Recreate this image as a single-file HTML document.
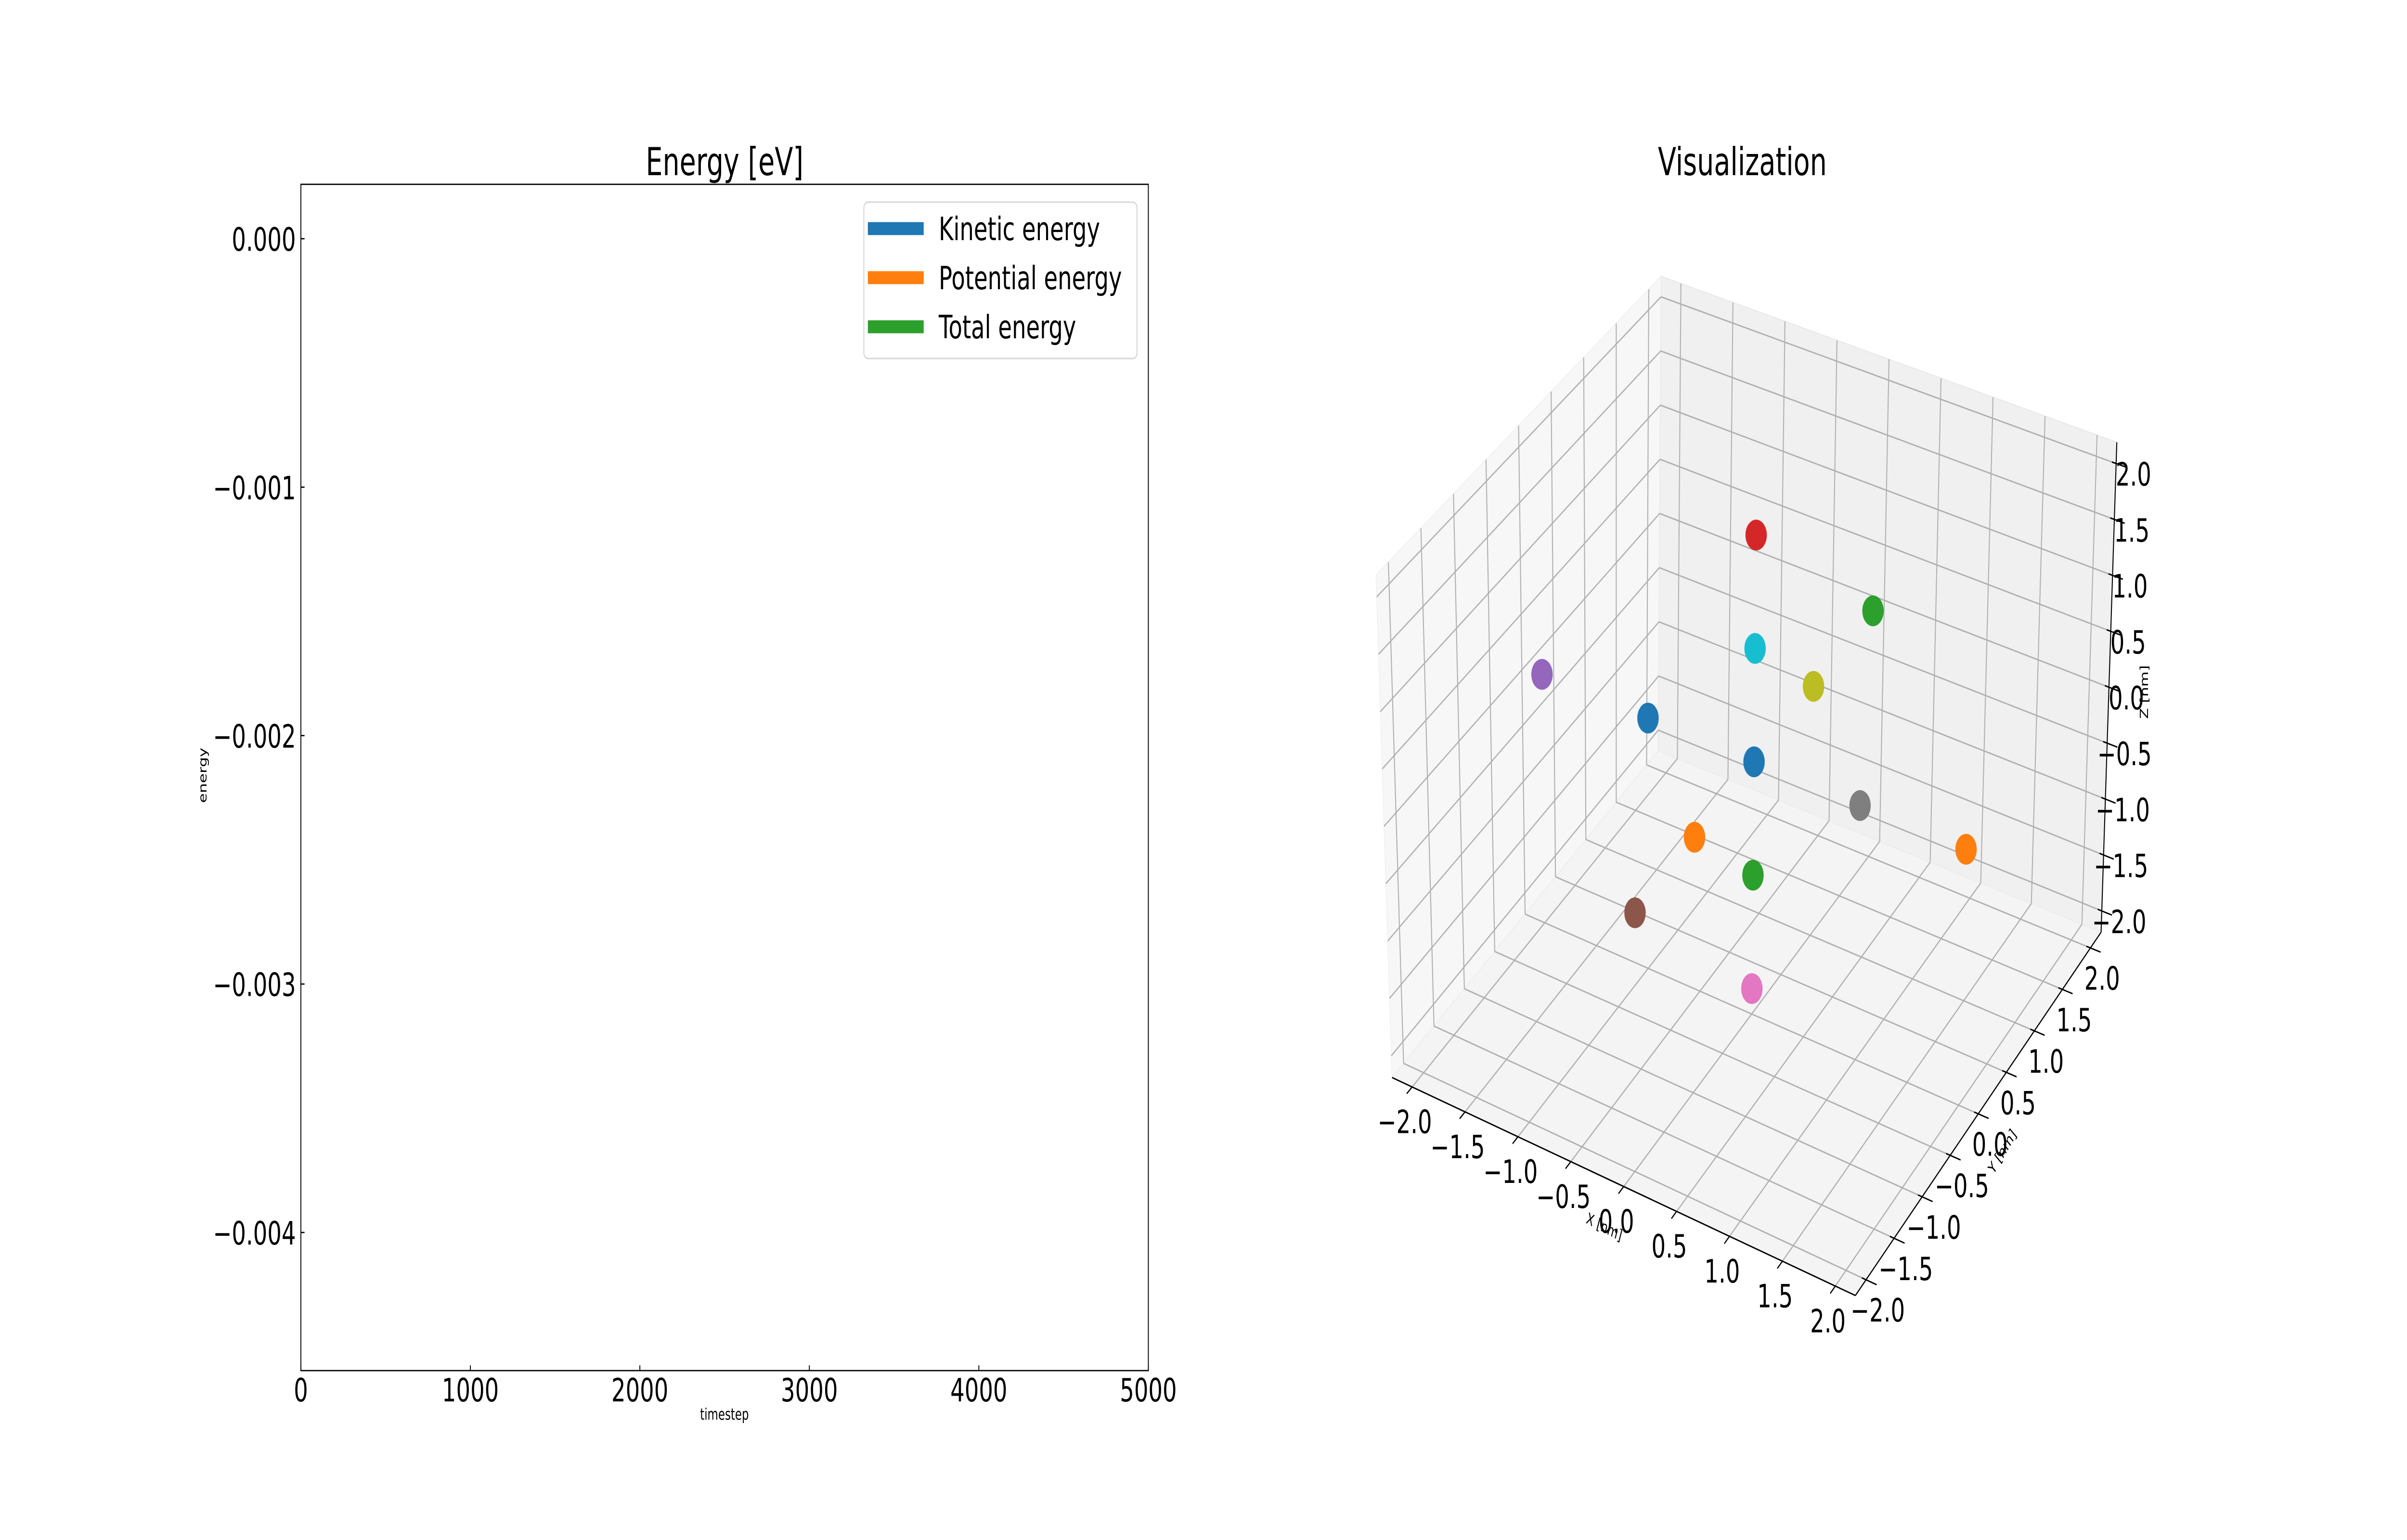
<!DOCTYPE html>
<html>
<head>
<meta charset="utf-8">
<meta name="viewport" content="width=7200, height=3200, initial-scale=1">
<style>
  html,body{margin:0;padding:0;background:#fff;width:100%;height:100%;overflow:hidden;}
  svg{display:block;width:100vw;height:100vh;font-family:"DejaVu Sans","Liberation Sans",sans-serif;}
</style>
</head>
<body>
<svg id="fig" xmlns="http://www.w3.org/2000/svg" viewBox="0 0 7200 3200" preserveAspectRatio="none">
  <rect x="0" y="0" width="7200" height="3200" fill="#ffffff"/>
  <g id="left"></g>
  <g id="right"></g>
</svg>
<script>
// ---------- Energy chart data ----------
const xTicks = [0, 1000, 2000, 3000, 4000, 5000];
const xTickLabels = ["0", "1000", "2000", "3000", "4000", "5000"];
const yTicks = [0, -0.001, -0.002, -0.003, -0.004];
const yTickLabels = ["0.000", "\u22120.001", "\u22120.002", "\u22120.003", "\u22120.004"];
const seriesNames = ["Kinetic energy", "Potential energy", "Total energy"];
const seriesColors = ["#1f77b4", "#ff7f0e", "#2ca02c"];
const timesteps = [];
const kineticValues = [];
const potentialValues = [];
const totalValues = [];
const xDomain = [0, 5000];
const yDomain = [-0.004556, 0.000219];

// ---------- 3D scatter data ----------
const pointX = [0, 2, 0, 0, -2, 0, 0, 1, 0, 0, -1, 0, 0];
const pointY = [0, 0, 2, 0, 0, -2, 0, 0, 1, 0, 0, -1, 0];
const pointZ = [0, 0, 0, 2, 0, 0, -2, 0, 0, 1, 0, 0, -1];
const pointColors = ["#1f77b4","#ff7f0e","#2ca02c","#d62728","#9467bd","#8c564b","#e377c2","#7f7f7f","#bcbd22","#17becf","#1f77b4","#ff7f0e","#2ca02c"];
const axisTicks3d = [-2, -1.5, -1, -0.5, 0, 0.5, 1, 1.5, 2];
const axisTickLabels3d = ["\u22122.0","\u22121.5","\u22121.0","\u22120.5","0.0","0.5","1.0","1.5","2.0"];

const NS = "http://www.w3.org/2000/svg";
function mk(parent, tag, attrs, text) {
  const el = document.createElementNS(NS, tag);
  for (const k in attrs) el.setAttribute(k, attrs[k]);
  if (text !== undefined) el.textContent = text;
  parent.appendChild(el);
  return el;
}

// ================= LEFT CHART =================
const L = document.getElementById("left");
const ax = {l: 900, r: 3435, t: 383, b: 2848};
function sx(v){ return ax.l + (v - xDomain[0]) / (xDomain[1] - xDomain[0]) * (ax.r - ax.l); }
function sy(v){ return ax.b - (v - yDomain[0]) / (yDomain[1] - yDomain[0]) * (ax.b - ax.t); }

let e;
e = mk(L, "rect", {x: ax.l, y: ax.t, width: ax.r - ax.l, height: ax.b - ax.t, fill: "#fff", stroke: "none"});



const seriesValues = [kineticValues, potentialValues, totalValues];
seriesValues.forEach((vals, i) => {
  const pts = vals.map((v, j) => sx(timesteps[j]) + "," + sy(v)).join(" ");
  const pl = mk(L, "polyline", {points: pts, fill: "none", stroke: seriesColors[i], "stroke-width": 5});
  
  
});

xTicks.forEach((v, i) => {
  const t = mk(L, "line", {x1: sx(v), x2: sx(v), y1: ax.b, y2: ax.b - 11, stroke: "#000", "stroke-width": 2.7});
  
  
  const lb = mk(L, "text", {x: sx(v), y: 2912, "font-size": 67, "text-anchor": "middle", fill: "#000"}, xTickLabels[i]);
  
  
});
yTicks.forEach((v, i) => {
  const t = mk(L, "line", {x1: ax.l, x2: ax.l + 11, y1: sy(v), y2: sy(v), stroke: "#000", "stroke-width": 2.7});
  
  
  const lb = mk(L, "text", {x: 885, y: sy(v) + 25, "font-size": 67, "text-anchor": "end", fill: "#000"}, yTickLabels[i]);
  
  
});

e = mk(L, "rect", {x: ax.l, y: ax.t, width: ax.r - ax.l, height: ax.b - ax.t, fill: "none", stroke: "#000", "stroke-width": 2.7});



e = mk(L, "text", {x: (ax.l + ax.r) / 2, y: 364, "font-size": 80, "text-anchor": "middle", fill: "#000"}, "Energy [eV]");



e = mk(L, "text", {x: 2167, y: 2950, "font-size": 33, "text-anchor": "middle", fill: "#000"}, "timestep");



e = mk(L, "text", {x: 0, y: 0, "font-size": 33, "text-anchor": "middle", fill: "#000", transform: "translate(618,1611) rotate(-90)"}, "energy");



const lg = mk(L, "g", {});


e = mk(lg, "rect", {x: 2584, y: 420, width: 817, height: 325, rx: 12, fill: "#fff", "fill-opacity": 0.8, stroke: "#d6d6d6", "stroke-width": 3});


seriesNames.forEach((name, i) => {
  const cy = 475 + i * 102;
  const h = mk(lg, "rect", {x: 2596, y: cy - 13.5, width: 167, height: 27, fill: seriesColors[i]});
  
  
  const t = mk(lg, "text", {x: 2808, y: cy + 24, "font-size": 67, fill: "#000"}, name);
  
  
});

// ================= RIGHT 3D CHART =================
const R = document.getElementById("right");
const LIM = 2.19;
const B = {p00: [4164, 2239], p10: [5550, 2692], p11: [6285, 1937], p01: [4960, 1560]};
const T = {p00: [4116, 1195], p10: [5598, 1612], p11: [6332, 919], p01: [4969, 574]};
function bil(Q, u, v) {
  return [
    (1-u)*(1-v)*Q.p00[0] + u*(1-v)*Q.p10[0] + u*v*Q.p11[0] + (1-u)*v*Q.p01[0],
    (1-u)*(1-v)*Q.p00[1] + u*(1-v)*Q.p10[1] + u*v*Q.p11[1] + (1-u)*v*Q.p01[1]
  ];
}
function P(x, y, z) {
  const u = (x + LIM) / (2*LIM), v = (y + LIM) / (2*LIM), w = (z + LIM) / (2*LIM);
  const b = bil(B, u, v), t = bil(T, u, v);
  return [b[0] + (t[0] - b[0]) * w, b[1] + (t[1] - b[1]) * w];
}
function poly(pts) { return pts.map(p => p[0].toFixed(1) + "," + p[1].toFixed(1)).join(" "); }
const m = LIM;

e = mk(R, "polygon", {points: poly([P(-m,-m,-m), P(-m,m,-m), P(-m,m,m), P(-m,-m,m)]), fill: "#f7f7f7", stroke: "#efefef", "stroke-width": 2});


e = mk(R, "polygon", {points: poly([P(-m,m,-m), P(m,m,-m), P(m,m,m), P(-m,m,m)]), fill: "#f0f0f0", stroke: "#e8e8e8", "stroke-width": 2});


e = mk(R, "polygon", {points: poly([P(-m,-m,-m), P(m,-m,-m), P(m,m,-m), P(-m,m,-m)]), fill: "#f4f4f4", stroke: "#ececec", "stroke-width": 2});



function gl(a, b, name) {
  const g = mk(R, "line", {x1: a[0], y1: a[1], x2: b[0], y2: b[1], stroke: "#b0b0b0", "stroke-width": 3});
  
  
}
axisTicks3d.forEach(t => {
  gl(P(-m, t, -m), P(-m, t, m), 'grid-line-y');
  gl(P(-m, -m, t), P(-m, m, t), 'grid-line-z');
  gl(P(t, m, -m), P(t, m, m), 'grid-line-x');
  gl(P(-m, m, t), P(m, m, t), 'grid-line-z');
  gl(P(t, -m, -m), P(t, m, -m), 'grid-line-x');
  gl(P(-m, t, -m), P(m, t, -m), 'grid-line-y');
});

function al(a, b, name) {
  const g = mk(R, "line", {x1: a[0], y1: a[1], x2: b[0], y2: b[1], stroke: "#000", "stroke-width": 3});
  
  
}
al(P(-m, -m, -m), P(m, -m, -m), 'x-axis-line');
al(P(m, -m, -m), P(m, m, -m), 'y-axis-line');
al(P(m, m, -m), P(m, m, m), 'z-axis-line');

axisTicks3d.forEach((t, i) => {
  let a = P(t, -m, -m), b = P(t, -m - 0.09, -m);
  al(a, b, 'x-tick');
  let lb = mk(R, "text", {x: a[0] - 22, y: a[1] + 72 + 24, "font-size": 67, "text-anchor": "middle", fill: "#000"}, axisTickLabels3d[i]);
  
  
  a = P(m, t, -m); b = P(m + 0.1, t, -m);
  al(P(m - 0.04, t, -m), b, 'y-tick');
  lb = mk(R, "text", {x: a[0] + 35, y: a[1] + 63 + 24, "font-size": 67, "text-anchor": "middle", fill: "#000"}, axisTickLabels3d[i]);
  
  
  a = P(m, m, t); b = P(m + 0.1, m, t);
  al(P(m - 0.04, m, t), b, 'z-tick');
  lb = mk(R, "text", {x: a[0] + 52, y: a[1] + 22 + 24, "font-size": 67, "text-anchor": "middle", fill: "#000"}, axisTickLabels3d[i]);
  
  
});

e = mk(R, "text", {x: 0, y: 0, "font-size": 33, "text-anchor": "middle", fill: "#000", transform: "translate(4795,2560) rotate(20)"}, "X [nm]");


e = mk(R, "text", {x: 0, y: 0, "font-size": 33, "text-anchor": "middle", fill: "#000", transform: "translate(5998,2400) rotate(-50)"}, "Y [nm]");


e = mk(R, "text", {x: 0, y: 0, "font-size": 33, "text-anchor": "middle", fill: "#000", transform: "translate(6425,1438) rotate(-90)"}, "Z [nm]");



pointX.forEach((x, i) => {
  const p = P(x, pointY[i], pointZ[i]);
  const c = mk(R, "circle", {cx: p[0].toFixed(1), cy: (p[1] - 8).toFixed(1), r: 32, fill: pointColors[i]});
  
  
});

e = mk(R, "text", {x: 5212, y: 364, "font-size": 80, "text-anchor": "middle", fill: "#000"}, "Visualization");


</script>
</body>
</html>
